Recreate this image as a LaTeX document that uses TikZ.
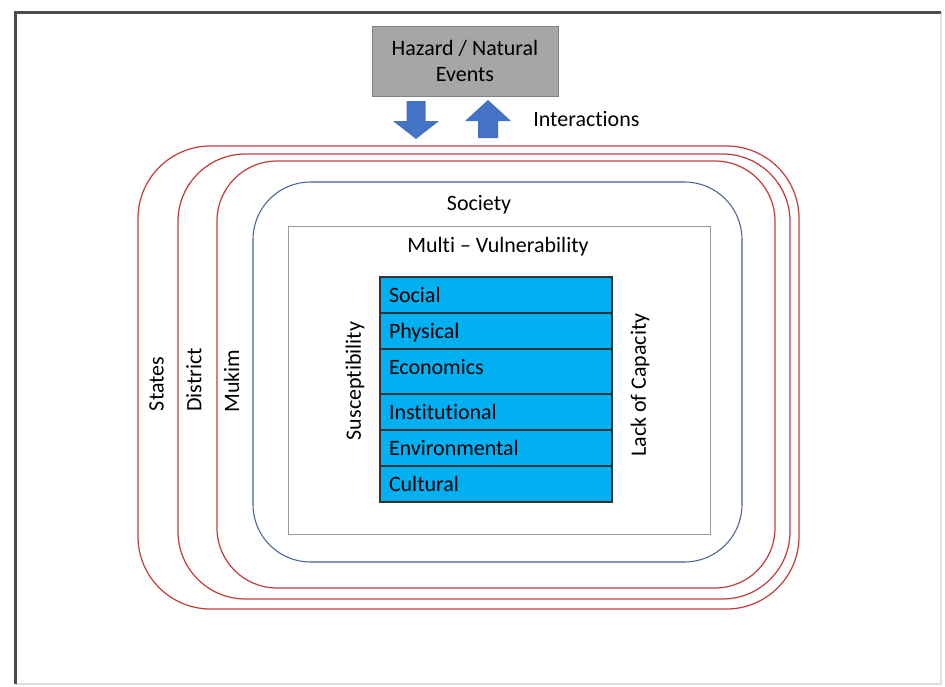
\documentclass[tikz,border=0pt]{standalone}
\usepackage{fontspec}
\setmainfont{Carlito}[Ligatures=CommonOff]
\usepackage{tikz}
\usetikzlibrary{positioning}

\definecolor{ringred}{RGB}{196,62,62}
\definecolor{societyblue}{RGB}{72,98,150}
\definecolor{hazardgray}{RGB}{166,166,166}
\definecolor{tablecyan}{RGB}{0,176,240}
\definecolor{arrowblue}{RGB}{68,114,196}

\tikzset{
    every node/.style={font=\fontsize{12.5}{15.3}\selectfont},
    ring/.style={draw=ringred, line width=0.7pt, rectangle, inner sep=0pt},
    row/.style={draw=black!80, line width=0.9pt, fill=tablecyan, rectangle,
        minimum width=4.64cm, minimum height=0.72cm, text width=4.28cm,
        inner xsep=0.18cm, inner ysep=0pt, outer sep=0pt, align=left,
        text height=0.28cm, text depth=0cm},
    blockarrow/.style={fill=arrowblue},
    sidelabel/.style={rotate=90, inner sep=0pt}
}

\begin{document}
\begin{tikzpicture}
    \useasboundingbox (0,0) rectangle (18.9,-13.74);
    \fill[white] (0,0) rectangle (18.9,-13.74);

    % window frame
    \draw[line width=0.05cm, black!12] (18.82,-0.24) -- (18.82,-13.68) -- (0.31,-13.68);
    \draw[line width=0.06cm, black!70] (0.31,-13.68) -- (0.31,-0.24) -- (18.82,-0.24);

    \node[draw=black!50, fill=hazardgray, align=center, minimum width=3.72cm,
        minimum height=1.4cm, inner sep=0pt] (hazard) at (9.3,-1.22)
        {Hazard / Natural\\Events};

    \fill[blockarrow] (8.32,-2.78) -- ++(0.46,0.36) -- ++(-0.27,0) -- ++(0,0.4)
        -- ++(-0.38,0) -- ++(0,-0.4) -- ++(-0.27,0) -- cycle;
    \fill[blockarrow] (9.76,-2.0) -- ++(0.46,-0.42) -- ++(-0.26,0) -- ++(0,-0.34)
        -- ++(-0.4,0) -- ++(0,0.34) -- ++(-0.26,0) -- cycle;
    \node[anchor=west, inner sep=0pt] (interact) at (10.66,-2.38) {Interactions};

    % nested areas
    \node[ring, minimum width=13.22cm, minimum height=9.26cm, rounded corners=1.45cm] (states) at (9.37,-7.55) {};
    \node[ring, minimum width=12.24cm, minimum height=8.9cm, rounded corners=1.35cm] (district) at (9.68,-7.53) {};
    \node[ring, minimum width=11.16cm, minimum height=8.54cm, rounded corners=1.2cm] (mukim) at (9.92,-7.49) {};
    \node[draw=societyblue, line width=0.6pt, inner sep=0pt, minimum width=9.78cm,
        minimum height=7.6cm, rounded corners=1.15cm] (society) at (9.95,-7.44) {};
    \node[draw=black!40, line width=0.5pt, inner sep=0pt, minimum width=8.44cm,
        minimum height=6.16cm] (multi) at (9.98,-7.6) {};

    \node[sidelabel] (stateslbl) at (3.13,-7.68) {States};
    \node[sidelabel] (districtlbl) at (3.88,-7.6) {District};
    \node[sidelabel] (mukimlbl) at (4.63,-7.62) {Mukim};
    \node (societylbl) at (9.58,-4.1) {Society};
    \node (multilbl) at (9.96,-4.94) {Multi – Vulnerability};
    \node[sidelabel] (suscept) at (7.1,-7.62) {Susceptibility};
    \node[sidelabel] (lackcap) at (12.8,-7.7) {Lack of Capacity};

    % vulnerability table
    \node[row, anchor=north west] (social) at (7.6,-5.54) {Social};
    \node[row, below=0pt of social] (physical) {Physical};
    \node[row, below=0pt of physical, minimum height=0.9cm, text depth=0.18cm] (economics) {Economics};
    \node[row, below=0pt of economics] (institutional) {Institutional};
    \node[row, below=0pt of institutional] (environmental) {Environmental};
    \node[row, below=0pt of environmental] (cultural) {Cultural};
\end{tikzpicture}
\end{document}
